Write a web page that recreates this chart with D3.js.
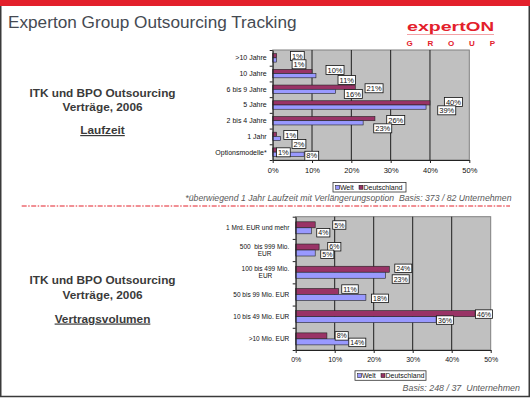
<!DOCTYPE html>
<html><head><meta charset="utf-8">
<script src="https://cdn.jsdelivr.net/npm/d3@7"></script>
<style>
body{margin:0;background:#fff;}
svg{display:block;font-family:Arial,"Liberation Sans",sans-serif;}
text{white-space:pre;}
</style>
</head><body><svg id="c" width="530" height="398"></svg>
<script>
// ---------- data ----------
const seriesNames = ["Welt", "Deutschland"];
const xTickValues = [0, 10, 20, 30, 40, 50];

const laufzeitCategories = [">10 Jahre", "10 Jahre", "6 bis 9 Jahre", "5 Jahre", "2 bis 4 Jahre", "1 Jahr", "Optionsmodelle*"];
const laufzeitWelt = [1, 11, 16, 39, 23, 2, 8];
const laufzeitDeutschland = [1, 10, 21, 40, 26, 1, 1];

const volumenCategories = [["1 Mrd. EUR und mehr"], ["500  bis 999 Mio.", "EUR"], ["100 bis 499 Mio.", "EUR"], ["50 bis 99 Mio. EUR"], ["10 bis 49 Mio. EUR"], [">10 Mio. EUR"]];
const volumenWelt = [4, 5, 23, 18, 36, 14];
const volumenDeutschland = [5, 6, 24, 11, 46, 8];

// manual data-label displacements (dx from bar end, dy from bar centre)
const laufzeitWeltLabelShift = [[22.4,4.3],[30.8,4.3],[17.7,2.6],[20.7,3.2],[19.6,5.5],[18.4,5.5],[7.6,1.5]];
const laufzeitDeutschlandLabelShift = [[20.7,0.2],[23,-1.5],[18.8,1.1],[23.4,-0.9],[20.8,1.4],[14.1,0.7],[6.7,2.3]];
const volumenWeltLabelShift = [[12,1.9],[12.1,1.3],[15.3,3.8],[14.1,0.9],[8.9,0.4],[7,0.5]];
const volumenDeutschlandLabelShift = [[24.1,0.2],[15.2,-0.3],[14,-0.9],[11.4,-2.4],[8.9,0.4],[14.8,0]];

// ---------- style ----------
const colors = {Welt: "#9999ff", Deutschland: "#993366"};
const red = "#e3202b";
const svg = d3.select("#c");

// frame
svg.append("rect").attr("x", 0.75).attr("y", 0).attr("width", 528.5).attr("height", 396.5)
  .attr("fill", "#fff").attr("stroke", "#3a3a3a").attr("stroke-width", 1.5);
svg.append("rect").attr("x", 0).attr("y", 0).attr("width", 530).attr("height", 6).attr("fill", red);

// title
svg.append("text").attr("x", 8).attr("y", 28).attr("font-size", 17.2).attr("fill", "#454a52")
  .text("Experton Group Outsourcing Tracking");

// logo
const logo = svg.append("g");
const lt = logo.append("text").attr("x", 407).attr("y", 30.5).attr("fill", red).attr("font-weight", "bold")
  .attr("textLength", 87).attr("lengthAdjust", "spacingAndGlyphs");
lt.append("tspan").attr("font-size", 13.5).text("expert");
lt.append("tspan").attr("font-size", 13).text("ON");
logo.append("line").attr("x1", 407).attr("x2", 494).attr("y1", 34.5).attr("y2", 34.5)
  .attr("stroke", "#f08a8f").attr("stroke-width", 0.8);
logo.append("text").attr("x", "409.5 430.5 451 472 492.5").attr("y", 45.8).attr("fill", red)
  .attr("font-size", 8).attr("font-weight", "bold").attr("text-anchor", "middle").text("GROUP");

// left text blocks
function leftBlock(y1, y2, y3, sub) {
  const g = svg.append("g").attr("fill", "#3a3a3a").attr("font-weight", "bold").attr("text-anchor", "middle");
  g.append("text").attr("x", 102.5).attr("y", y1).attr("font-size", 11.8).text("ITK und BPO Outsourcing");
  g.append("text").attr("x", 102.5).attr("y", y2).attr("font-size", 11.8).text("Verträge, 2006");
  g.append("text").attr("x", 102.5).attr("y", y3).attr("font-size", 11.8).attr("text-decoration", "underline").text(sub);
}
leftBlock(96.5, 111.3, 134, "Laufzeit");
leftBlock(284, 299, 322.5, "Vertragsvolumen");

// chart drawer
function drawChart(cfg) {
  const g = svg.append("g");
  const n = cfg.categories.length;
  const x = d3.scaleLinear().domain([0, 50]).range([cfg.x0, cfg.x1]);
  const y = d3.scaleBand().domain(d3.range(n)).range([cfg.y0, cfg.y1]).paddingInner(0.46).paddingOuter(0.23);
  const ys = d3.scaleBand().domain(["Deutschland", "Welt"]).range([0, y.bandwidth()]);
  const yEdge = d3.scaleLinear().domain([0, n]).range([cfg.y0, cfg.y1]);

  g.append("rect").attr("x", cfg.x0).attr("y", cfg.y0).attr("width", cfg.x1 - cfg.x0).attr("height", cfg.y1 - cfg.y0)
    .attr("fill", "#c0c0c0").attr("stroke", "#808080").attr("stroke-width", 1);
  g.selectAll(".grid").data(xTickValues.slice(1, -1)).join("line")
    .attr("x1", d => x(d)).attr("x2", d => x(d)).attr("y1", cfg.y0).attr("y2", cfg.y1)
    .attr("stroke", "#1e1e1e").attr("stroke-width", 1);

  const rows = d3.range(n).map(i => [
    {s: "Deutschland", i, v: cfg.deutschland[i], sh: cfg.dShift[i]},
    {s: "Welt", i, v: cfg.welt[i], sh: cfg.wShift[i]}
  ]).flat();

  g.selectAll(".bar").data(rows).join("rect")
    .attr("x", x(0)).attr("y", d => y(d.i) + ys(d.s))
    .attr("width", d => x(d.v) - x(0)).attr("height", ys.bandwidth())
    .attr("fill", d => colors[d.s]).attr("stroke", "#222").attr("stroke-width", 0.6);

  // axes
  const xa = g.append("g").attr("transform", `translate(0,${cfg.y1})`)
    .call(d3.axisBottom(x).tickValues(xTickValues).tickFormat(d => d + "%").tickSize(3).tickSizeOuter(0));
  xa.select(".domain").attr("stroke", "#222");
  xa.selectAll("line").attr("stroke", "#222");
  xa.selectAll("text").attr("font-size", cfg.tickFont).attr("fill", "#111").attr("dy", "0.71em").attr("y", cfg.tickDy);

  const ya = g.append("g").attr("transform", `translate(${cfg.x0},0)`)
    .call(d3.axisLeft(yEdge).tickValues(d3.range(n + 1)).tickFormat("").tickSize(3).tickSizeOuter(0));
  ya.select(".domain").attr("stroke", "#222");
  ya.selectAll("line").attr("stroke", "#222");

  // category labels
  cfg.categories.forEach((c, i) => {
    const lines = Array.isArray(c) ? c : [c];
    const cy = y(i) + y.bandwidth() / 2;
    const t = g.append("text").attr("font-size", cfg.catFont).attr("fill", "#111");
    const lh = cfg.catFont * 1.12;
    lines.forEach((l, k) => {
      t.append("tspan").attr("x", 0).attr("y", cy + (k - (lines.length - 1) / 2) * lh).attr("dy", "0.35em").text(l);
    });
    if (lines.length === 1) {
      t.attr("text-anchor", "end").selectAll("tspan").attr("x", cfg.x0 - cfg.catGap);
    } else {
      const w = d3.max(t.selectAll("tspan").nodes(), nd => nd.getComputedTextLength());
      t.attr("text-anchor", "middle").selectAll("tspan").attr("x", cfg.x0 - cfg.catGap - w / 2);
    }
  });

  // data labels
  const lg = g.selectAll(".lab").data(rows).join("g")
    .attr("transform", d => `translate(${x(d.v) + d.sh[0]},${y(d.i) + ys(d.s) + ys.bandwidth() / 2 + d.sh[1]})`);
  lg.append("rect").attr("fill", "#fff").attr("stroke", "#111").attr("stroke-width", 0.8);
  lg.append("text").attr("font-size", cfg.labFont).attr("text-anchor", "middle").attr("dy", "0.36em")
    .attr("fill", "#111").text(d => d.v + "%");
  lg.each(function() {
    const gg = d3.select(this);
    const w = gg.select("text").node().getComputedTextLength() + 3;
    gg.select("rect").attr("x", -w / 2).attr("y", -cfg.boxH / 2).attr("width", w).attr("height", cfg.boxH);
  });

  // legend
  const L = g.append("g").attr("transform", `translate(${cfg.legX},${cfg.legY})`);
  L.append("rect").attr("width", cfg.legW).attr("height", 9.5).attr("fill", "#fff").attr("stroke", "#333").attr("stroke-width", 0.8);
  const pos = {Welt: [2.7, 6.9], Deutschland: [26, 30.5]};
  seriesNames.forEach(s => {
    L.append("rect").attr("x", pos[s][0]).attr("y", 2.8).attr("width", 4).attr("height", 4)
      .attr("fill", colors[s]).attr("stroke", "#111").attr("stroke-width", 0.5);
    L.append("text").attr("x", pos[s][1]).attr("y", 7.3).attr("font-size", 7).attr("fill", "#111").text(s);
  });
}

drawChart({
  categories: laufzeitCategories, welt: laufzeitWelt, deutschland: laufzeitDeutschland,
  wShift: laufzeitWeltLabelShift, dShift: laufzeitDeutschlandLabelShift,
  x0: 272.7, x1: 469.3, y0: 50, y1: 160, catFont: 7, catGap: 6, tickFont: 7.5, tickDy: 7.5,
  labFont: 7.5, boxH: 9, legX: 333, legY: 182.5, legW: 73
});
drawChart({
  categories: volumenCategories, welt: volumenWelt, deutschland: volumenDeutschland,
  wShift: volumenWeltLabelShift, dShift: volumenDeutschlandLabelShift,
  x0: 295.7, x1: 490.7, y0: 216.7, y1: 350, catFont: 6.5, catGap: 6.4, tickFont: 7, tickDy: 7,
  labFont: 7, boxH: 8.5, legX: 355, legY: 370.8, legW: 71
});

// footnotes
svg.append("text").attr("x", 511.5).attr("y", 201).attr("text-anchor", "end").attr("font-size", 8.7)
  .attr("font-style", "italic").attr("fill", "#595959")
  .text("*überwiegend 1 Jahr Laufzeit mit Verlängerungsoption  Basis: 373 / 82 Unternehmen");
svg.append("line").attr("x1", 21.7).attr("x2", 510).attr("y1", 206).attr("y2", 206)
  .attr("stroke", red).attr("stroke-width", 1).attr("stroke-dasharray", "5,1.5,1.5,1.5");
svg.append("text").attr("x", 520).attr("y", 391).attr("text-anchor", "end").attr("font-size", 8.9)
  .attr("font-style", "italic").attr("fill", "#595959").text("Basis: 248 / 37  Unternehmen");
</script>
</body></html>
